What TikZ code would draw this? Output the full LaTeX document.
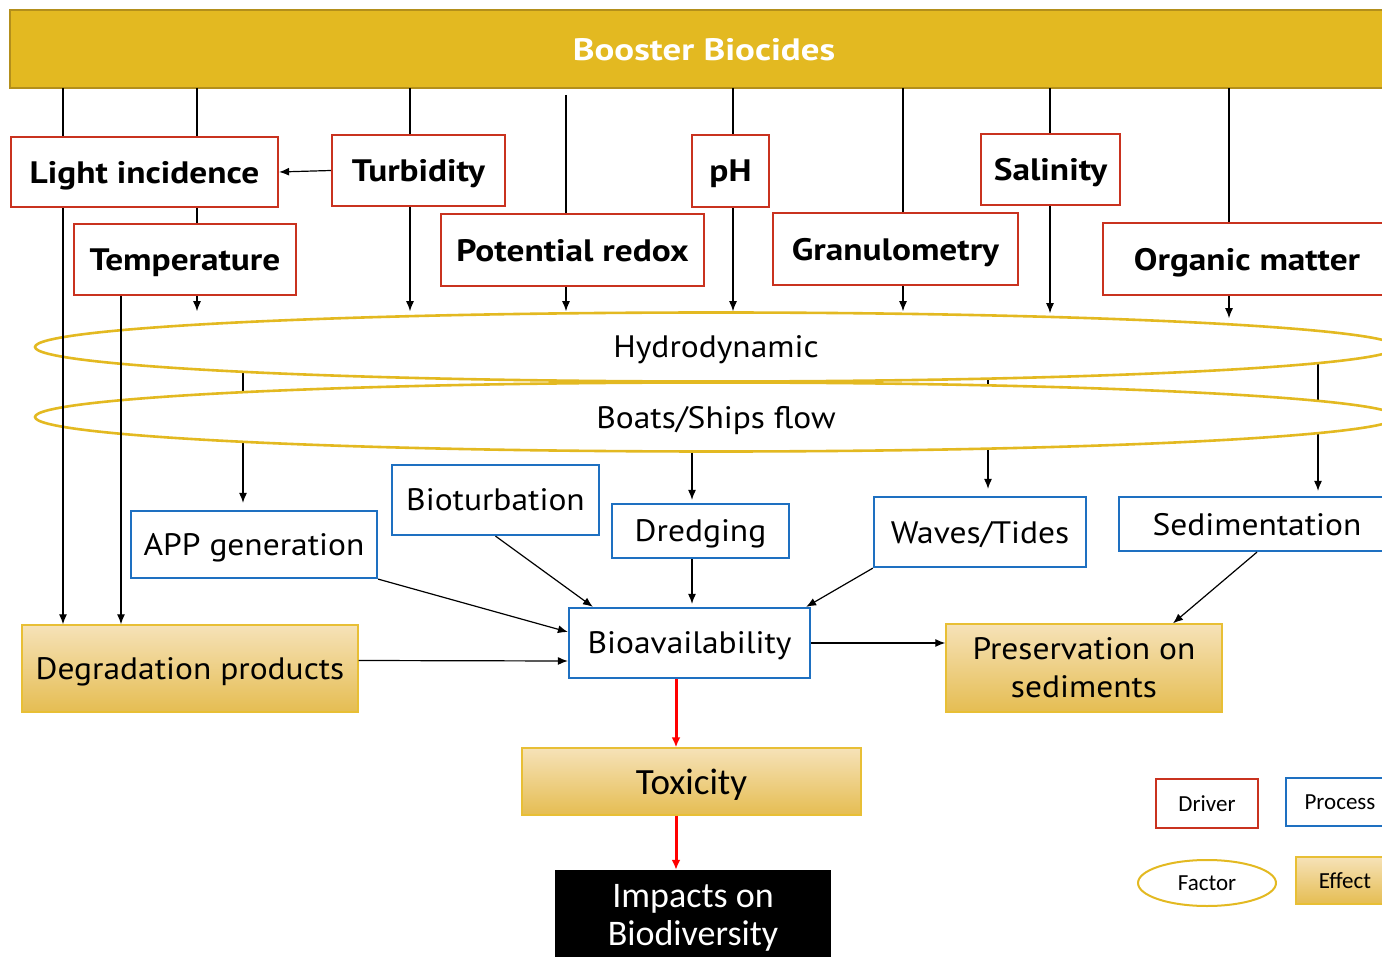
\documentclass[tikz,border=0pt]{standalone}
\usepackage{fontspec}
\setmainfont{PT Sans}[FakeStretch=1.08, BoldFeatures={FakeStretch=1.14}]
\newfontfamily\barfont{PT Sans}[BoldFeatures={FakeStretch=1.19}]
\newfontfamily\legfont{Carlito}
\usetikzlibrary{shapes.geometric,arrows.meta}

\definecolor{gold}{HTML}{E3B921}
\definecolor{golddark}{HTML}{B38F1B}
\definecolor{drvred}{HTML}{C9321F}
\definecolor{prcblue}{HTML}{1E70C1}
\definecolor{efftop}{HTML}{F6E2B8}
\definecolor{effbot}{HTML}{E5BD52}
\definecolor{effline}{HTML}{E8BF35}

\tikzset{
  driver/.style={draw=drvred, line width=2.2pt, fill=white, inner sep=0pt, text depth=0pt,
    font=\bfseries\fontsize{31}{36}\selectfont},
  process/.style={draw=prcblue, line width=2.2pt, fill=white, inner sep=0pt, text depth=0pt,
    font=\fontsize{31}{36}\selectfont},
  factor/.style={ellipse, draw=gold, line width=2.6pt, inner sep=0pt, text depth=0pt,
    font=\fontsize{31}{36}\selectfont},
  effect/.style={draw=effline, line width=1.4pt, top color=efftop, bottom color=effbot,
    inner sep=0pt, align=center, font=\fontsize{31}{38}\selectfont},
  legbox/.style={line width=2pt, inner sep=0pt, text depth=0pt,
    font=\legfont\fontsize{23}{26}\selectfont},
  arr/.style={-{Latex[length=10pt,width=8pt]}, line width=1.2pt},
  link/.style={line width=1.2pt},
  redarr/.style={-{Latex[length=10pt,width=9pt]}, draw=red, line width=3pt},
}

\begin{document}
\begin{tikzpicture}[x=1pt, y=-1pt]
  \useasboundingbox (0,0) rectangle (1382,957);

  % top bar
  \node[draw=golddark, line width=2.5pt, fill=gold, minimum width=1388, minimum height=78,
    text=white, text depth=0pt, font=\barfont\bfseries\fontsize{31}{36}\selectfont]
    (bar) at (704,49) {Booster Biocides};

  % drivers
  \node[driver, minimum width=267, minimum height=70] (light) at (144.5,172) {Light incidence};
  \node[driver, minimum width=173, minimum height=71] (turb) at (418.5,170.5) {Turbidity};
  \node[driver, minimum width=77, minimum height=72] (ph) at (730.5,171) {pH};
  \node[driver, minimum width=139, minimum height=71] (sal) at (1050.5,169.5) {Salinity};
  \node[driver, minimum width=222, minimum height=71] (temp) at (185,259.5) {Temperature};
  \node[driver, minimum width=263, minimum height=72] (redox) at (572.5,250) {Potential redox};
  \node[driver, minimum width=245, minimum height=72] (gran) at (895.5,249) {Granulometry};
  \node[driver, minimum width=288, minimum height=72] (org) at (1247,259) {Organic matter};

  % processes
  \node[process, minimum width=207, minimum height=70] (biot) at (495.5,500) {Bioturbation};
  \node[process, minimum width=246, minimum height=67] (app) at (254,544.5) {APP generation};
  \node[process, minimum width=177, minimum height=54] (dredg) at (700.5,531) {Dredging};
  \node[process, minimum width=212, minimum height=70] (waves) at (980,532) {Waves/Tides};
  \node[process, minimum width=276, minimum height=54] (sedim) at (1257,524) {Sedimentation};
  \node[process, minimum width=241, minimum height=70] (bioav) at (689.5,643) {Bioavailability};

  % effects
  \node[effect, minimum width=336, minimum height=87, text depth=0pt] (degr) at (190,668.5) {Degradation products};
  \node[effect, minimum width=276, minimum height=88] (pres) at (1084,668) {Preservation on\\sediments};
  \node[effect, minimum width=339, minimum height=67, text depth=0pt,
    font=\legfont\fontsize{37}{40}\selectfont] (tox) at (691.5,781.5) {Toxicity};
  \node[fill=black, text=white, minimum width=276, minimum height=90, inner sep=0pt, align=center,
    text depth=0pt, font=\legfont\fontsize{36}{38}\selectfont] (impact) at (693,915) {Impacts on\\Biodiversity};

  % factor outputs (hidden inside the ellipses)
  \coordinate (hydc) at (716,347);
  \coordinate (toapp) at ([xshift=-11pt]app.north);
  \coordinate (towav) at ([xshift=8pt]waves.north);
  \coordinate (tosed) at ([xshift=61pt]sedim.north);
  \coordinate (todrg) at ([xshift=-8.5pt]dredg.north);
  \draw[arr, shorten >=7pt] (hydc -| toapp) -- (toapp);
  \draw[arr, shorten >=7pt] (hydc -| towav) -- (towav);
  \draw[arr, shorten >=5pt] (hydc -| tosed) -- (tosed);

  % factors
  \node[factor, fill=white, minimum width=1362, minimum height=69] (hydro) at (hydc) {Hydrodynamic};
  \node[factor, fill=white, minimum width=1362, minimum height=69] (boats) at (716,417) {Boats/Ships flow};
  \draw[arr, shorten >=3pt] (boats.south -| todrg) -- (todrg);

  % bar to drivers
  \coordinate (b1) at (63,88);
  \coordinate (b2) at (197,88);
  \coordinate (b3) at (410,88);
  \coordinate (b4) at (566,95);
  \coordinate (b5) at (733,88);
  \coordinate (b6) at (903,88);
  \coordinate (b7) at (1050,88);
  \coordinate (b8) at (1229,88);
  \coordinate (t1) at ([xshift=-64pt]temp.south);
  \draw[link] (b1) -- (b1 |- light.north);
  \draw[arr] (b1 |- light.south) -- (b1 |- degr.north);
  \draw[link] (b2) -- (b2 |- light.north);
  \draw[link] (b2 |- light.south) -- (b2 |- temp.north);
  \draw[arr] (b2 |- temp.south) -- (b2 |- hydro.north);
  \draw[arr] (t1) -- (t1 |- degr.north);
  \draw[link] (b3) -- (b3 |- turb.north);
  \draw[arr] (b3 |- turb.south) -- (b3 |- hydro.north);
  \draw[arr] (turb.west) -- (light.east);
  \draw[link] (b4) -- (b4 |- redox.north);
  \draw[arr] (b4 |- redox.south) -- (b4 |- hydro.north);
  \draw[link] (b5) -- (b5 |- ph.north);
  \draw[arr] (b5 |- ph.south) -- (b5 |- hydro.north);
  \draw[link] (b6) -- (b6 |- gran.north);
  \draw[arr] (b6 |- gran.south) -- (b6 |- hydro.north);
  \draw[link] (b7) -- (b7 |- sal.north);
  \draw[arr] (b7 |- sal.south) -- ([yshift=-2pt]b7 |- hydro.north);
  \draw[link] (b8) -- (b8 |- org.north);
  \draw[arr] (b8 |- org.south) -- ([yshift=-7pt]b8 |- hydro.north);

  % processes to bioavailability
  \draw[arr] (app.south east) -- ([yshift=11pt]bioav.west);
  \draw[arr] (biot.south) -- ([xshift=25pt]bioav.north west);
  \draw[arr] (todrg |- dredg.south) -- ([yshift=3pt]todrg |- bioav.north);
  \draw[arr] (waves.south west) -- ([xshift=-5pt]bioav.north east);
  \draw[arr] ([yshift=8pt]degr.east) -- ([yshift=-18pt]bioav.west);
  \draw[arr] (bioav.east) -- (bioav.east -| pres.west);
  \draw[arr] (sedim.south) -- ([xshift=89pt]pres.north);

  % effects chain
  \coordinate (r1) at ([xshift=-13.5pt]bioav.south);
  \draw[redarr] (r1) -- (r1 |- tox.north);
  \draw[redarr] (r1 |- tox.south) -- (r1 |- impact.north);

  % legend
  \node[legbox, draw=drvred, minimum width=102, minimum height=49] (lgdrv) at (1207,803.5) {Driver};
  \node[legbox, draw=prcblue, minimum width=108, minimum height=48] (lgprc) at (1340,802) {Process};
  \node[legbox, ellipse, draw=gold, minimum width=138, minimum height=46] (lgfac) at (1207,883) {Factor};
  \node[legbox, draw=effline, line width=1.2pt, top color=efftop, bottom color=effbot,
    minimum width=98, minimum height=47] (lgeff) at (1345,880.5) {Effect};
\end{tikzpicture}
\end{document}
